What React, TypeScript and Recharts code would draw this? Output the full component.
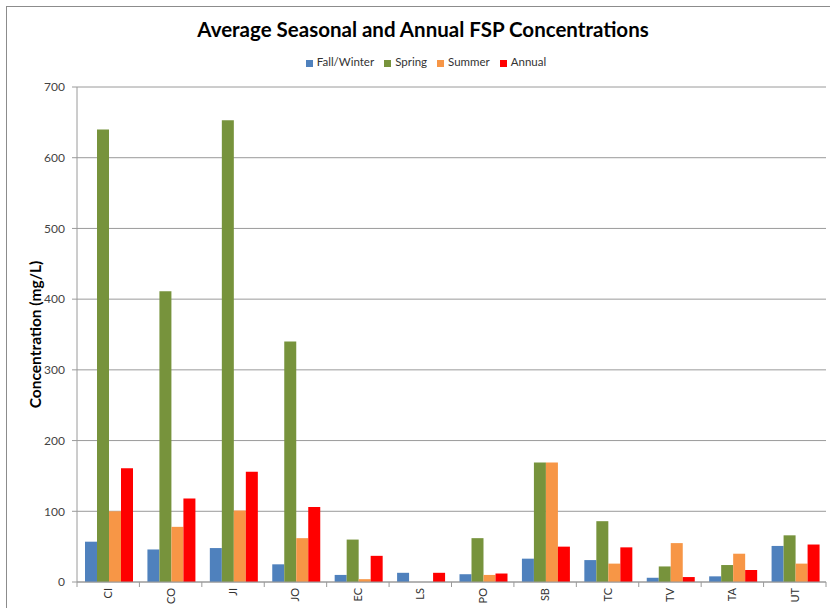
import { BarChart, Bar, XAxis, YAxis, CartesianGrid, Legend } from 'recharts';

const categories = ['CI', 'CO', 'JI', 'JO', 'EC', 'LS', 'PO', 'SB', 'TC', 'TV', 'TA', 'UT'];
const fallWinter = [57, 46, 48, 25, 10, 13, 11, 33, 31, 6, 8, 51];
const spring = [640, 411, 653, 340, 60, null, 62, 169, 86, 22, 24, 66];
const summer = [100, 78, 101, 62, 4, null, 10, 169, 26, 55, 40, 26];
const annual = [161, 118, 156, 106, 37, 13, 12, 50, 49, 7, 17, 53];
const yTicks = [0, 100, 200, 300, 400, 500, 600, 700];

const series = [
    { key: 'Fall/Winter', values: fallWinter, color: '#4F81BD' },
    { key: 'Spring', values: spring, color: '#77933C' },
    { key: 'Summer', values: summer, color: '#F79646' },
    { key: 'Annual', values: annual, color: '#FF0000' },
];

const chartData = categories.map((site, i) => {
    const row: any = { site };
    series.forEach(s => { row[s.key] = s.values[i]; });
    return row;
});

const FONT = 'Lato, "Open Sans", sans-serif';
const GRID = '#9a9a9a';
const margin = { top: 67, right: 4, bottom: 0, left: 7 };
const chartW = 830;
const plotW = chartW - margin.left - margin.right - 70;

// category label plus a tick mark at the left edge of each band (and the right edge of the last)
function SiteTick(props: any) {
    const { x, y, payload, index } = props;
    const bw = plotW / categories.length;
    const top = y - 8;
    return (
        <g>
            <line x1={x - bw / 2} x2={x - bw / 2} y1={top} y2={top + 5} stroke={GRID} />
            {index === categories.length - 1 && (
                <line x1={x + bw / 2} x2={x + bw / 2} y1={top} y2={top + 5} stroke={GRID} />
            )}
            <text
                transform={`translate(${x + 4},${top + 6}) rotate(-90)`}
                textAnchor="end"
                fontSize={11}
                fill="#333"
                fontFamily={FONT}
            >
                {payload.value}
            </text>
        </g>
    );
}

function YLabel(props: any) {
    const { viewBox } = props;
    const cx = viewBox.x + 34;
    const cy = viewBox.y + viewBox.height / 2;
    return (
        <text
            transform={`translate(${cx},${cy}) rotate(-90)`}
            textAnchor="middle"
            fontSize={15.5}
            fontWeight="bold"
            fill="#000"
            fontFamily={FONT}
        >
            Concentration (mg/L)
        </text>
    );
}

export default function App() {
    return (
        <div style={{ position: 'absolute', left: 0, top: 0, width: 830, height: 608, overflow: 'hidden', background: '#fff', fontFamily: FONT }}>
            <div style={{ position: 'absolute', left: 6, top: 6, width: 832, height: 620, border: '1px solid #8c8c8c' }} />
            <div style={{ position: 'absolute', left: 6, top: 17, width: 834, textAlign: 'center', fontSize: 20.5, fontWeight: 'bold', color: '#000' }}>
                Average Seasonal and Annual FSP Concentrations
            </div>
            <div style={{ position: 'absolute', left: 0, top: 0 }}>
                <BarChart width={chartW} height={608} data={chartData} margin={margin} barCategoryGap={8} barGap={0}>
                    <CartesianGrid vertical={false} stroke={GRID} />
                    <XAxis
                        dataKey="site"
                        height={26}
                        stroke={GRID}
                        tickLine={false}
                        tick={<SiteTick />}
                        interval={0}
                    />
                    <YAxis
                        width={70}
                        domain={[0, 700]}
                        ticks={yTicks}
                        stroke={GRID}
                        tickSize={5}
                        tickMargin={7}
                        tick={{ fill: '#444', fontSize: 12, fontFamily: FONT }}
                        label={<YLabel />}
                    />
                    <Legend
                        verticalAlign="top"
                        height={20}
                        iconType="square"
                        iconSize={7}
                        itemSorter={(item: any) => series.findIndex(s => s.key === item.value)}
                        wrapperStyle={{ left: 14, width: 834, top: 55, fontSize: 11.5, fontFamily: FONT }}
                        formatter={(value: string) => <span style={{ color: '#333' }}>{value}</span>}
                    />
                    {series.map(s => (
                        <Bar key={s.key} dataKey={s.key} fill={s.color} isAnimationActive={false} />
                    ))}
                </BarChart>
            </div>
        </div>
    );
}
